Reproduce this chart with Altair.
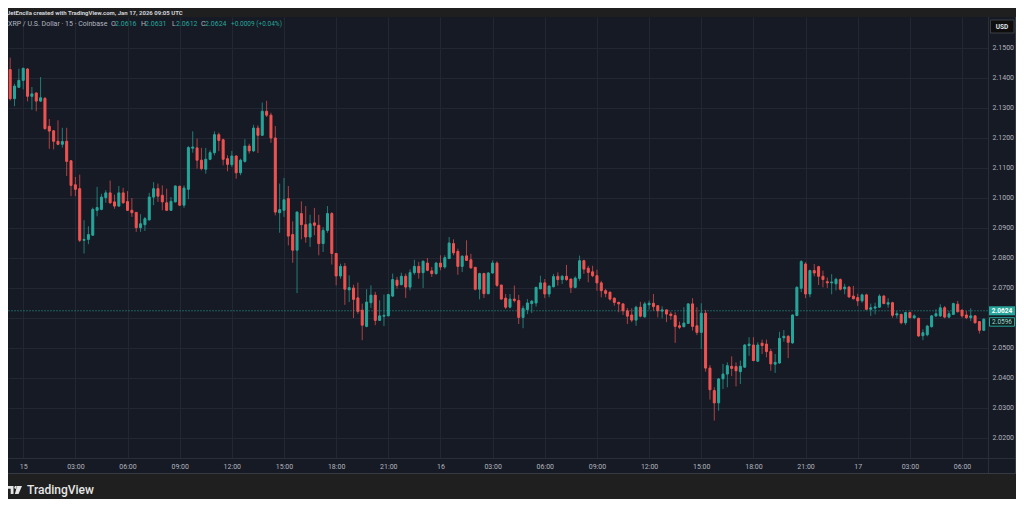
import altair as alt
import pandas as pd

# ---------------- data ----------------
FIRST_BAR = "2026-01-14T23:15:00Z"   # first visible 15-minute candle
BAR_MINUTES = 15

OPEN = [
    2.1428, 2.1331, 2.1369, 2.1392, 2.1430, 2.1339, 2.1350, 2.1323, 2.1332, 2.1239,
    2.1224, 2.1189, 2.1179, 2.1189, 2.1124, 2.1044, 2.1031, 2.0859, 2.0862, 2.0876,
    2.0959, 2.0962, 2.1001, 2.1017, 2.0987, 2.0973, 2.1017, 2.0988, 2.0959, 2.0952,
    2.0901, 2.0911, 2.0927, 2.1003, 2.1031, 2.1009, 2.0984, 2.0959, 2.0987, 2.1039,
    2.0976, 2.1029, 2.1166, 2.1167, 2.1126, 2.1096, 2.1129, 2.1151, 2.1211, 2.1194,
    2.1131, 2.1111, 2.1140, 2.1084, 2.1122, 2.1173, 2.1157, 2.1233, 2.1209, 2.1289,
    2.1276, 2.1200, 2.0951, 2.0959, 2.0998, 2.0878, 2.0826, 2.0948, 2.0911, 2.0870,
    2.0917, 2.0909, 2.0848, 2.0892, 2.0948, 2.0815, 2.0740, 2.0772, 2.0694, 2.0700,
    2.0667, 2.0626, 2.0572, 2.0651, 2.0676, 2.0592, 2.0606, 2.0607, 2.0673, 2.0726,
    2.0711, 2.0739, 2.0703, 2.0751, 2.0772, 2.0751, 2.0783, 2.0757, 2.0748, 2.0783,
    2.0770, 2.0798, 2.0848, 2.0822, 2.0772, 2.0807, 2.0794, 2.0769, 2.0696, 2.0748,
    2.0681, 2.0750, 2.0783, 2.0710, 2.0666, 2.0636, 2.0663, 2.0658, 2.0602, 2.0628,
    2.0648, 2.0650, 2.0697, 2.0717, 2.0680, 2.0704, 2.0739, 2.0728, 2.0739, 2.0730,
    2.0702, 2.0732, 2.0791, 2.0766, 2.0754, 2.0741, 2.0717, 2.0691, 2.0686, 2.0666,
    2.0652, 2.0647, 2.0624, 2.0610, 2.0593, 2.0636, 2.0604, 2.0644, 2.0649, 2.0641,
    2.0623, 2.0627, 2.0613, 2.0608, 2.0574, 2.0571, 2.0582, 2.0647, 2.0574, 2.0552,
    2.0616, 2.0433, 2.0358, 2.0317, 2.0397, 2.0413, 2.0439, 2.0438, 2.0421, 2.0436,
    2.0508, 2.0510, 2.0456, 2.0516, 2.0513, 2.0488, 2.0446, 2.0450, 2.0534, 2.0539,
    2.0517, 2.0608, 2.0699, 2.0780, 2.0680, 2.0758, 2.0771, 2.0739, 2.0721, 2.0717,
    2.0714, 2.0728, 2.0697, 2.0703, 2.0673, 2.0668, 2.0657, 2.0677, 2.0629, 2.0633,
    2.0636, 2.0673, 2.0646, 2.0651, 2.0610, 2.0612, 2.0584, 2.0618, 2.0601, 2.0599,
    2.0541, 2.0544, 2.0571, 2.0607, 2.0607, 2.0634, 2.0603, 2.0612, 2.0646, 2.0626,
    2.0610, 2.0601, 2.0607, 2.0588, 2.0559,
]
HIGH = [
    2.1468, 2.1381, 2.1431, 2.1435, 2.1433, 2.1370, 2.1352, 2.1403, 2.1337, 2.1263,
    2.1226, 2.1259, 2.1234, 2.1234, 2.1126, 2.1070, 2.1078, 2.0926, 2.0906, 2.0968,
    2.1037, 2.1014, 2.1026, 2.1058, 2.1011, 2.1040, 2.1034, 2.1023, 2.1000, 2.0953,
    2.0946, 2.0937, 2.1017, 2.1053, 2.1048, 2.1042, 2.1031, 2.1003, 2.1042, 2.1041,
    2.1042, 2.1173, 2.1222, 2.1198, 2.1167, 2.1167, 2.1159, 2.1222, 2.1218, 2.1198,
    2.1142, 2.1157, 2.1142, 2.1131, 2.1196, 2.1181, 2.1244, 2.1242, 2.1318, 2.1324,
    2.1284, 2.1240, 2.1048, 2.1067, 2.1040, 2.0922, 2.0956, 2.0989, 2.0973, 2.0944,
    2.0967, 2.0944, 2.0903, 2.0973, 2.0953, 2.0817, 2.0781, 2.0783, 2.0742, 2.0711,
    2.0718, 2.0648, 2.0696, 2.0709, 2.0687, 2.0659, 2.0678, 2.0681, 2.0748, 2.0737,
    2.0751, 2.0748, 2.0762, 2.0794, 2.0787, 2.0792, 2.0800, 2.0770, 2.0787, 2.0809,
    2.0809, 2.0870, 2.0862, 2.0831, 2.0809, 2.0859, 2.0814, 2.0770, 2.0751, 2.0751,
    2.0753, 2.0792, 2.0789, 2.0710, 2.0680, 2.0680, 2.0708, 2.0677, 2.0641, 2.0663,
    2.0660, 2.0704, 2.0741, 2.0730, 2.0710, 2.0747, 2.0752, 2.0743, 2.0777, 2.0730,
    2.0739, 2.0808, 2.0794, 2.0774, 2.0774, 2.0761, 2.0724, 2.0697, 2.0688, 2.0669,
    2.0654, 2.0647, 2.0633, 2.0632, 2.0641, 2.0654, 2.0654, 2.0658, 2.0680, 2.0641,
    2.0639, 2.0627, 2.0621, 2.0619, 2.0588, 2.0636, 2.0649, 2.0666, 2.0636, 2.0649,
    2.0627, 2.0443, 2.0369, 2.0399, 2.0447, 2.0452, 2.0472, 2.0452, 2.0458, 2.0513,
    2.0536, 2.0536, 2.0519, 2.0528, 2.0528, 2.0497, 2.0480, 2.0554, 2.0560, 2.0543,
    2.0612, 2.0706, 2.0793, 2.0786, 2.0761, 2.0780, 2.0774, 2.0758, 2.0735, 2.0746,
    2.0734, 2.0732, 2.0714, 2.0707, 2.0707, 2.0681, 2.0681, 2.0681, 2.0648, 2.0651,
    2.0679, 2.0677, 2.0666, 2.0654, 2.0623, 2.0614, 2.0621, 2.0621, 2.0612, 2.0601,
    2.0562, 2.0577, 2.0610, 2.0629, 2.0646, 2.0640, 2.0623, 2.0651, 2.0657, 2.0629,
    2.0623, 2.0632, 2.0610, 2.0590, 2.0599,
]
LOW = [
    2.1325, 2.1306, 2.1368, 2.1362, 2.1322, 2.1294, 2.1289, 2.1320, 2.1228, 2.1164,
    2.1162, 2.1176, 2.1168, 2.1073, 2.1006, 2.1006, 2.0853, 2.0815, 2.0846, 2.0873,
    2.0939, 2.0959, 2.0984, 2.0981, 2.0964, 2.0970, 2.0981, 2.0957, 2.0937, 2.0887,
    2.0887, 2.0890, 2.0925, 2.0976, 2.0987, 2.0959, 2.0957, 2.0957, 2.0985, 2.0973,
    2.0967, 2.0996, 2.1151, 2.1098, 2.1092, 2.1081, 2.1126, 2.1142, 2.1156, 2.1109,
    2.1089, 2.1103, 2.1064, 2.1076, 2.1118, 2.1148, 2.1153, 2.1150, 2.1207, 2.1270,
    2.1184, 2.0942, 2.0884, 2.0937, 2.0842, 2.0784, 2.0683, 2.0862, 2.0851, 2.0837,
    2.0876, 2.0809, 2.0820, 2.0884, 2.0778, 2.0709, 2.0731, 2.0644, 2.0653, 2.0600,
    2.0614, 2.0526, 2.0569, 2.0633, 2.0576, 2.0590, 2.0573, 2.0606, 2.0670, 2.0698,
    2.0709, 2.0667, 2.0692, 2.0744, 2.0731, 2.0700, 2.0756, 2.0737, 2.0744, 2.0759,
    2.0764, 2.0798, 2.0809, 2.0744, 2.0753, 2.0791, 2.0764, 2.0692, 2.0662, 2.0667,
    2.0679, 2.0748, 2.0703, 2.0661, 2.0630, 2.0632, 2.0652, 2.0580, 2.0566, 2.0613,
    2.0617, 2.0638, 2.0696, 2.0666, 2.0669, 2.0702, 2.0708, 2.0713, 2.0724, 2.0683,
    2.0699, 2.0724, 2.0747, 2.0719, 2.0736, 2.0691, 2.0669, 2.0669, 2.0658, 2.0641,
    2.0619, 2.0610, 2.0580, 2.0586, 2.0574, 2.0602, 2.0601, 2.0628, 2.0624, 2.0602,
    2.0599, 2.0586, 2.0594, 2.0517, 2.0563, 2.0569, 2.0580, 2.0558, 2.0543, 2.0497,
    2.0421, 2.0328, 2.0258, 2.0291, 2.0363, 2.0369, 2.0406, 2.0372, 2.0380, 2.0434,
    2.0474, 2.0456, 2.0454, 2.0480, 2.0469, 2.0424, 2.0417, 2.0447, 2.0521, 2.0466,
    2.0514, 2.0606, 2.0686, 2.0666, 2.0669, 2.0739, 2.0710, 2.0702, 2.0700, 2.0679,
    2.0692, 2.0692, 2.0679, 2.0668, 2.0662, 2.0640, 2.0651, 2.0626, 2.0607, 2.0612,
    2.0634, 2.0646, 2.0634, 2.0601, 2.0599, 2.0579, 2.0577, 2.0599, 2.0596, 2.0537,
    2.0526, 2.0539, 2.0568, 2.0603, 2.0603, 2.0599, 2.0599, 2.0610, 2.0618, 2.0601,
    2.0596, 2.0590, 2.0581, 2.0548, 2.0557,
]
CLOSE = [
    2.1331, 2.1373, 2.1392, 2.1432, 2.1339, 2.1347, 2.1323, 2.1334, 2.1231, 2.1223,
    2.1189, 2.1179, 2.1188, 2.1122, 2.1042, 2.1029, 2.0859, 2.0862, 2.0878, 2.0962,
    2.0968, 2.1003, 2.1017, 2.0984, 2.0973, 2.1017, 2.0984, 2.0959, 2.0951, 2.0901,
    2.0914, 2.0931, 2.1003, 2.1031, 2.1006, 2.0987, 2.0959, 2.0989, 2.1040, 2.0976,
    2.1033, 2.1168, 2.1170, 2.1126, 2.1098, 2.1129, 2.1151, 2.1211, 2.1192, 2.1129,
    2.1112, 2.1140, 2.1084, 2.1126, 2.1173, 2.1157, 2.1233, 2.1209, 2.1289, 2.1276,
    2.1200, 2.0953, 2.0961, 2.0994, 2.0873, 2.0826, 2.0953, 2.0911, 2.0870, 2.0914,
    2.0909, 2.0848, 2.0892, 2.0948, 2.0815, 2.0740, 2.0772, 2.0696, 2.0701, 2.0662,
    2.0622, 2.0576, 2.0653, 2.0676, 2.0592, 2.0607, 2.0609, 2.0678, 2.0728, 2.0709,
    2.0739, 2.0703, 2.0751, 2.0772, 2.0751, 2.0789, 2.0759, 2.0748, 2.0783, 2.0770,
    2.0801, 2.0850, 2.0817, 2.0772, 2.0806, 2.0792, 2.0767, 2.0696, 2.0748, 2.0681,
    2.0750, 2.0783, 2.0709, 2.0663, 2.0636, 2.0663, 2.0658, 2.0602, 2.0632, 2.0650,
    2.0656, 2.0702, 2.0717, 2.0680, 2.0706, 2.0738, 2.0728, 2.0739, 2.0728, 2.0702,
    2.0733, 2.0791, 2.0763, 2.0752, 2.0741, 2.0717, 2.0691, 2.0682, 2.0663, 2.0652,
    2.0647, 2.0624, 2.0606, 2.0593, 2.0636, 2.0606, 2.0647, 2.0649, 2.0638, 2.0624,
    2.0627, 2.0613, 2.0608, 2.0572, 2.0569, 2.0583, 2.0647, 2.0572, 2.0552, 2.0616,
    2.0433, 2.0361, 2.0317, 2.0397, 2.0413, 2.0441, 2.0432, 2.0424, 2.0439, 2.0510,
    2.0513, 2.0458, 2.0510, 2.0508, 2.0488, 2.0447, 2.0452, 2.0532, 2.0539, 2.0519,
    2.0610, 2.0702, 2.0788, 2.0680, 2.0758, 2.0750, 2.0739, 2.0728, 2.0717, 2.0720,
    2.0729, 2.0696, 2.0703, 2.0670, 2.0664, 2.0657, 2.0677, 2.0629, 2.0634, 2.0637,
    2.0673, 2.0648, 2.0651, 2.0609, 2.0614, 2.0584, 2.0618, 2.0601, 2.0607, 2.0540,
    2.0551, 2.0573, 2.0607, 2.0614, 2.0634, 2.0603, 2.0614, 2.0648, 2.0621, 2.0607,
    2.0601, 2.0607, 2.0584, 2.0559, 2.0596,
]

TIME_TICKS = [
    "2026-01-15 00:00", "2026-01-15 03:00", "2026-01-15 06:00", "2026-01-15 09:00",
    "2026-01-15 12:00", "2026-01-15 15:00", "2026-01-15 18:00", "2026-01-15 21:00",
    "2026-01-16 00:00", "2026-01-16 03:00", "2026-01-16 06:00", "2026-01-16 09:00",
    "2026-01-16 12:00", "2026-01-16 15:00", "2026-01-16 18:00", "2026-01-16 21:00",
    "2026-01-17 00:00", "2026-01-17 03:00", "2026-01-17 06:00",
]
PRICE_TICKS = [2.02, 2.03, 2.04, 2.05, 2.06, 2.07, 2.08, 2.09, 2.10,
               2.11, 2.12, 2.13, 2.14, 2.15]
HIDDEN_TICK = 2.06          # covered by the price boxes in the reference
TIME_RANGE = ["2026-01-14 23:07:30", "2026-01-17 07:29:36"]
PRICE_RANGE = [2.01333, 2.16033]

LAST_PRICE = 2.0624
SECOND_PRICE = 2.0596
HEADER = "JetEncila created with TradingView.com, Jan 17, 2026 09:05 UTC"
SYMBOL = "XRP / U.S. Dollar \u00b7 15 \u00b7 Coinbase"
OHLC_KEYS = ["O", "H", "L", "C"]
OHLC_VALUES = ["2.0616", "2.0631", "2.0612", "2.0624"]
CHANGE = "+0.0009 (+0.04%)"
CURRENCY = "USD"
BRAND = "TradingView"

# ---------------- styling ----------------
UP = "#26a69a"
DOWN = "#ef5350"
PANEL = "#161a25"
OUTER = "#1f1f1f"
GRID = "#232733"
SEP = "#2a2e39"
TXT = "#b2b5be"
FONT = "Roboto"

W, H = 980, 441          # plot area
STRIP_R = 1008           # right edge of price strip (plot coords)
PANEL_B = 456            # bottom edge of time strip (plot coords)


def dt(s):
    ts = pd.Timestamp(s)
    return alt.DateTime(year=ts.year, month=ts.month, date=ts.day,
                        hours=ts.hour, minutes=ts.minute, seconds=ts.second,
                        utc=True)


start = pd.Timestamp(FIRST_BAR)
df = pd.DataFrame({
    "t": [(start + pd.Timedelta(minutes=BAR_MINUTES * i)).strftime("%Y-%m-%dT%H:%M:%SZ")
          for i in range(len(OPEN))],
    "o": OPEN, "h": HIGH, "l": LOW, "c": CLOSE,
})
df["dir"] = ["up" if c >= o else "down" for o, c in zip(OPEN, CLOSE)]

x_scale = alt.Scale(type="utc", domain=[dt(TIME_RANGE[0]), dt(TIME_RANGE[1])],
                    padding=0, nice=False)
y_scale = alt.Scale(domain=PRICE_RANGE, zero=False, nice=False, padding=0)
x_axis = alt.Axis(
    values=[dt(s) for s in TIME_TICKS],
    labelExpr="utchours(datum.value) == 0 ? '' + utcdate(datum.value) : utcFormat(datum.value, '%H:%M')",
    grid=True, orient="bottom", labelPadding=4,
)
y_axis = alt.Axis(
    values=PRICE_TICKS, grid=True, orient="right", labelPadding=4,
    labelExpr=f"abs(datum.value - {HIDDEN_TICK}) < 0.00001 ? '' : format(datum.value, '.4f')",
)
color = alt.Color("dir:N", scale=alt.Scale(domain=["up", "down"], range=[UP, DOWN]),
                  legend=None)
stroke = alt.Stroke("dir:N", scale=alt.Scale(domain=["up", "down"], range=[UP, DOWN]),
                    legend=None)
X = alt.X("t:T", scale=x_scale, axis=x_axis, title=None)

base = alt.Chart(df)
wicks = base.mark_rule(strokeWidth=1, opacity=0.7).encode(
    x=X, y=alt.Y("l:Q", scale=y_scale, axis=y_axis, title=None), y2="h:Q", color=color)
bodies = base.mark_bar(size=2, strokeWidth=1).encode(
    x=X, y=alt.Y("o:Q", scale=y_scale, axis=y_axis, title=None), y2="c:Q",
    color=color, stroke=stroke)

one = pd.DataFrame({"k": [0]})


def box(x, x2, y, y2, fill, strk=None):
    kw = {"color": fill}
    if strk:
        kw.update(stroke=strk, strokeWidth=1)
    return alt.Chart(one).mark_rect(**kw).encode(
        x=alt.value(x), x2=alt.value(x2), y=alt.value(y), y2=alt.value(y2))


def label(txt, x, y, size=7, col=TXT, weight="normal", align="left"):
    return alt.Chart(one).mark_text(
        font=FONT, fontSize=size, color=col, fontWeight=weight, align=align,
        baseline="middle").encode(x=alt.value(x), y=alt.value(y), text=alt.value(txt))


def rule(x, x2, y, y2, col):
    enc = {"x": alt.value(x), "y": alt.value(y)}
    if x2 is not None:
        enc["x2"] = alt.value(x2)
    if y2 is not None:
        enc["y2"] = alt.value(y2)
    return alt.Chart(one).mark_rule(color=col, strokeWidth=1).encode(**enc)


top_band = box(0, STRIP_R, -9, 0, OUTER)
bottom_band = box(0, STRIP_R, PANEL_B, 482, OUTER)
sep_v = rule(980.5, None, 0, PANEL_B, SEP)
sep_h = rule(0, STRIP_R, 441.5, None, SEP)
border_r = rule(1007.5, None, 0, PANEL_B, "#363a45")
border_b = rule(0, STRIP_R, PANEL_B + 0.5, None, "#363a45")

price_df = pd.DataFrame({"p": [LAST_PRICE], "lab": [f"{LAST_PRICE:.4f}"]})
second_df = pd.DataFrame({"p": [SECOND_PRICE], "lab": [f"{SECOND_PRICE:.4f}"]})
Yp = alt.Y("p:Q", scale=y_scale, axis=y_axis, title=None)

price_line = alt.Chart(price_df).mark_rule(color=UP, strokeDash=[2, 1], opacity=0.5).encode(
    y=Yp, x=alt.value(0), x2=alt.value(980))
box1 = alt.Chart(price_df).mark_rect(color=UP, yOffset=-4.5, y2Offset=4.5).encode(
    y=Yp, y2="p:Q", x=alt.value(981), x2=alt.value(1007))
txt1 = alt.Chart(price_df).mark_text(font=FONT, fontSize=6.5, color="#ffffff",
                                     fontWeight="bold", align="center", baseline="middle").encode(
    y=Yp, x=alt.value(994), text="lab:N")
box2 = alt.Chart(second_df).mark_rect(color="#10211f", stroke=UP, strokeWidth=1,
                                      yOffset=-1.5, y2Offset=7).encode(
    y=Yp, y2="p:Q", x=alt.value(981.5), x2=alt.value(1006.5))
txt2 = alt.Chart(second_df).mark_text(font=FONT, fontSize=6.5, color="#9fd8d0",
                                      align="center", baseline="middle", dy=2.8).encode(
    y=Yp, x=alt.value(994), text="lab:N")

usd_box = box(982.5, 1006, 3, 16, "#0e0e0e", "#3b3e46")
usd_txt = label(CURRENCY, 994, 9.5, size=6.5, col="#e0e3eb", weight="bold", align="center")

header = label(HEADER, -1, -4, size=6, col="#d1d4dc", weight="bold")
sym = label(SYMBOL, 0, 7, size=7, col=TXT)
ohlc_layers = []
key_x = [103, 133, 164, 193]
for k, v, kx in zip(OHLC_KEYS, OHLC_VALUES, key_x):
    ohlc_layers.append(label(k, kx, 7, size=7, col=TXT))
    ohlc_layers.append(label(v, kx + 4, 7, size=7, col=UP))
ohlc_layers.append(label(CHANGE, 223, 7, size=6.5, col=UP))

logo_path = ("M-1.875,-1 H-0.25 V1 H-0.95 V-0.3 H-1.875 Z "
             "M-0.05,-0.65 a0.35,0.35 0 1,0 0.7,0 a0.35,0.35 0 1,0 -0.7,0 Z "
             "M0.65,-1 H1.875 L1,1 H0.1 Z")
logo = alt.Chart(one).mark_point(shape=logo_path, size=64, filled=True, opacity=1,
                                 color="#e6e6e6", strokeWidth=0).encode(
    x=alt.value(6.5), y=alt.value(473))
brand = label(BRAND, 19, 472.5, size=12, col="#e6e6e6", weight=500)

chart = alt.layer(
    top_band, bottom_band, price_line, wicks, bodies,
    sep_v, sep_h, border_r, border_b,
    box1, txt1, box2, txt2, usd_box, usd_txt,
    header, sym, *ohlc_layers, logo, brand,
).properties(
    width=W, height=H,
    padding={"left": 0, "top": 9, "right": 28, "bottom": 41},
    autosize=alt.AutoSizeParams(type="none"),
    background=PANEL,
).configure_view(
    stroke=None, fill=PANEL,
).configure_axis(
    domain=False, ticks=False, labelColor=TXT, labelFont=FONT, labelFontSize=7,
    gridColor=GRID, gridWidth=1, labelFlush=False, labelOverlap=False,
)

chart.save("out.html", embed_options={"renderer": "svg", "actions": False})
